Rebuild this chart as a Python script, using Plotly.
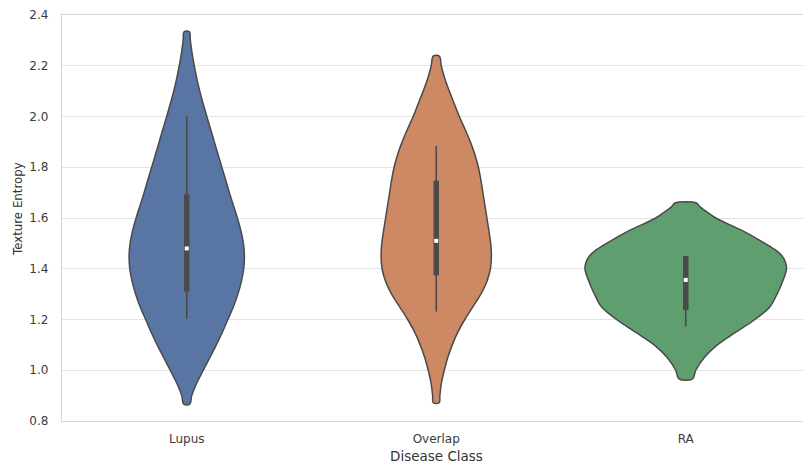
import plotly.graph_objects as go

# Disease classes and their violin colours
classes = ["Lupus", "Overlap", "RA"]
fill_colors = ["#5875a4", "#cc8963", "#5f9e6e"]
edge_color = "#4a4a4a"

# Kernel-density profile of Texture Entropy per class:
# value levels and relative density at each level
lupus_levels = [0.866, 0.90, 0.95, 1.00, 1.05, 1.10, 1.15, 1.20, 1.25, 1.30,
                1.35, 1.40, 1.45, 1.50, 1.55, 1.60, 1.65, 1.70, 1.75, 1.80,
                1.85, 1.90, 1.95, 2.00, 2.05, 2.10, 2.15, 2.20, 2.25, 2.30, 2.334]
lupus_density = [3.0, 5.0, 10.0, 16.5, 23.0, 29.5, 35.5, 41.0, 46.5, 51.0,
                 54.5, 56.8, 57.5, 56.5, 54.0, 50.5, 46.5, 42.5, 38.8, 35.0,
                 31.2, 27.5, 23.8, 20.0, 16.4, 13.0, 10.0, 7.5, 5.3, 3.6, 2.7]

overlap_levels = [0.872, 0.90, 0.95, 1.00, 1.05, 1.10, 1.15, 1.20, 1.25, 1.30,
                  1.35, 1.40, 1.45, 1.50, 1.55, 1.60, 1.65, 1.70, 1.75, 1.80,
                  1.85, 1.90, 1.95, 2.00, 2.05, 2.10, 2.15, 2.20, 2.238]
overlap_density = [3.0, 3.6, 5.2, 8.0, 11.5, 16.0, 21.5, 28.5, 36.5, 44.5,
                   50.5, 54.0, 55.0, 54.3, 52.5, 50.5, 48.5, 46.5, 44.5, 42.0,
                   38.5, 34.0, 28.7, 23.0, 18.0, 13.0, 8.5, 5.0, 3.0]

ra_levels = [0.966, 1.00, 1.05, 1.10, 1.15, 1.20, 1.25, 1.30, 1.325, 1.35,
             1.375, 1.40, 1.425, 1.45, 1.475, 1.50, 1.55, 1.60, 1.63, 1.645, 1.659]
ra_density = [6.7, 10.0, 18.5, 31.5, 50.0, 69.0, 84.0, 91.0, 94.0, 96.5,
              99.0, 100.5, 99.5, 96.0, 89.0, 79.0, 56.5, 30.0, 19.0, 14.0, 10.8]

violin_levels = [lupus_levels, overlap_levels, ra_levels]
violin_density = [lupus_density, overlap_density, ra_density]

# Inner box statistics per class
whisker_low = [1.202, 1.231, 1.172]
quartile_1 = [1.310, 1.374, 1.237]
median = [1.480, 1.510, 1.356]
quartile_3 = [1.693, 1.747, 1.450]
whisker_high = [2.003, 1.884, 1.450]

# Axis ticks
y_ticks = [0.8, 1.0, 1.2, 1.4, 1.6, 1.8, 2.0, 2.2, 2.4]

# widest violin spans +/- this many category units
max_half_width = 0.404
peak = max(max(d) for d in violin_density)

fig = go.Figure()

for i, name in enumerate(classes):
    levels = violin_levels[i]
    widths = [d / peak * max_half_width for d in violin_density[i]]
    xs = [i - w for w in widths] + [i + w for w in reversed(widths)]
    ys = list(levels) + list(reversed(levels))
    fig.add_trace(go.Scatter(
        x=xs + [xs[0]], y=ys + [ys[0]], mode="lines", fill="toself",
        fillcolor=fill_colors[i],
        line=dict(color=edge_color, width=1.5, shape="spline", smoothing=1.0),
        hoverinfo="skip", showlegend=False,
    ))
    # whisker
    fig.add_trace(go.Scatter(
        x=[i, i], y=[whisker_low[i], whisker_high[i]], mode="lines",
        line=dict(color=edge_color, width=1.6), hoverinfo="skip", showlegend=False,
    ))
    # interquartile box
    fig.add_trace(go.Scatter(
        x=[i, i], y=[quartile_1[i], quartile_3[i]], mode="lines",
        line=dict(color=edge_color, width=5.5), hoverinfo="skip", showlegend=False,
    ))
    # median
    fig.add_trace(go.Scatter(
        x=[i], y=[median[i]], mode="markers",
        marker=dict(symbol="square", size=4, color="white", line=dict(width=0)),
        hoverinfo="skip", showlegend=False,
    ))

axis_line = "#d6d6d6"
tick_font = dict(family="DejaVu Sans", size=12, color="#3c3c3c")

fig.update_layout(
    width=803, height=467,
    margin=dict(l=62, r=0, t=15, b=46),
    paper_bgcolor="white", plot_bgcolor="white",
    showlegend=False,
    xaxis=dict(
        range=[-0.5, 2.47], tickvals=[0, 1, 2], ticktext=classes,
        showgrid=False, zeroline=False, showline=True, mirror=True,
        linecolor=axis_line, linewidth=1.3, ticks="", tickfont=tick_font,
        ticklabelstandoff=6,
    ),
    yaxis=dict(
        range=[0.8, 2.4], tickvals=y_ticks, tickformat=".1f",
        showgrid=True, gridcolor="#e4e4e4", gridwidth=1.2,
        zeroline=False, showline=True, linecolor=axis_line, linewidth=1.3,
        ticks="", tickfont=tick_font, ticklabelstandoff=10,
    ),
    annotations=[
        dict(text="Disease Class", xref="paper", yref="paper", x=0.505, y=-0.086,
             xanchor="center", yanchor="middle", showarrow=False,
             font=dict(family="DejaVu Sans", size=13.5, color="#333333")),
        dict(text="Texture Entropy", xref="paper", yref="paper", x=-0.0594, y=0.522,
             xanchor="center", yanchor="middle", textangle=-90, showarrow=False,
             font=dict(family="DejaVu Sans", size=11.8, color="#333333")),
    ],
)

fig.write_html("out.html")
